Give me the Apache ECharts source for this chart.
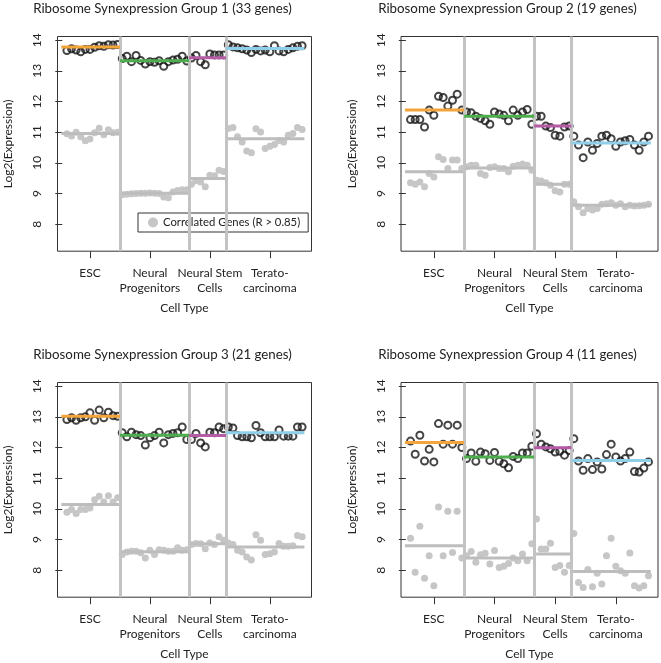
<!DOCTYPE html>
<html><head><meta charset="utf-8">
<script src="https://cdn.jsdelivr.net/npm/echarts@6/dist/echarts.min.js"></script>
<style>html,body{margin:0;padding:0;background:#fff}#c{width:661px;height:663px}</style>
</head><body><div id="c"></div>
<script>
// ---------- data ----------
const categories = ['ESC', 'Neural\nProgenitors', 'Neural Stem\nCells', 'Terato-\ncarcinoma'];
const groupSizes = [12, 15, 8, 17];
const categoryTicks = [6, 19, 32, 45];
const yTicks = [8, 9, 10, 11, 12, 13, 14];
const panelTitles = [
  'Ribosome Synexpression Group 1 (33 genes)',
  'Ribosome Synexpression Group 2 (19 genes)',
  'Ribosome Synexpression Group 3 (21 genes)',
  'Ribosome Synexpression Group 4 (11 genes)'
];
const legendName = 'Correlated Genes (R > 0.85)';

// Group 1
const g1Black = [13.66,13.72,13.68,13.62,13.70,13.70,13.77,13.82,13.80,13.85,13.84,13.86,
  13.40,13.48,13.30,13.50,13.34,13.22,13.30,13.28,13.33,13.15,13.30,13.35,13.38,13.48,13.32,
  13.42,13.50,13.30,13.20,13.55,13.52,13.52,13.52,
  13.85,13.78,13.75,13.72,13.68,13.60,13.70,13.65,13.68,13.62,13.82,13.65,13.62,13.70,13.75,13.80,13.82];
const g1Grey = [10.95,10.88,11.00,10.85,10.72,10.78,10.98,11.13,10.92,11.08,10.98,11.00,
  8.96,8.98,8.99,9.00,9.01,9.01,9.02,9.01,9.00,8.89,8.86,9.05,9.10,9.12,9.12,
  9.30,9.42,9.38,9.22,9.60,9.58,9.76,9.72,
  11.12,11.15,10.85,10.68,10.39,10.33,11.11,11.01,10.47,10.54,10.60,10.73,10.68,10.90,10.96,11.15,11.09];
const g1BlackMeans = [13.78, 13.33, 13.43, 13.73];
const g1GreyMeans = [10.96, 9.01, 9.49, 10.79];

// Group 2
const g2Black = [11.41,11.41,11.41,11.17,11.72,11.55,12.17,12.13,11.85,12.04,12.24,11.72,
  11.66,11.63,11.52,11.45,11.37,11.26,11.66,11.59,11.55,11.37,11.72,11.55,11.66,11.74,11.26,
  11.52,11.52,11.20,11.15,10.90,10.87,11.17,11.20,
  10.87,10.58,10.17,10.68,10.41,10.63,10.87,10.90,10.79,10.54,10.68,10.72,10.76,10.58,10.41,10.68,10.87];
const g2Grey = [9.35,9.30,9.38,9.22,9.65,9.54,10.20,10.11,9.82,10.09,10.09,9.82,
  9.87,9.92,9.92,9.65,9.60,9.85,9.87,9.82,9.82,9.71,9.89,9.92,9.96,9.92,9.76,
  9.43,9.41,9.35,9.27,9.09,9.05,9.30,9.30,
  8.73,8.57,8.37,8.51,8.46,8.51,8.65,8.67,8.70,8.62,8.67,8.57,8.62,8.59,8.60,8.62,8.65];
const g2BlackMeans = [11.72, 11.52, 11.20, 10.65];
const g2GreyMeans = [9.71, 9.83, 9.30, 8.62];

// Group 3
const g3Black = [12.91,12.97,12.89,12.97,13.00,13.13,12.89,13.22,12.97,13.15,13.04,13.02,
  12.48,12.35,12.50,12.42,12.39,12.08,12.32,12.39,12.50,12.15,12.42,12.46,12.48,12.67,12.26,
  12.26,12.46,12.15,12.02,12.50,12.48,12.67,12.61,
  12.67,12.64,12.39,12.35,12.35,12.32,12.72,12.48,12.35,12.35,12.35,12.57,12.37,12.37,12.37,12.67,12.67];
const g3Grey = [9.89,9.98,9.85,9.98,9.98,10.03,10.30,10.41,10.22,10.43,10.22,10.36,
  8.51,8.59,8.62,8.62,8.57,8.40,8.65,8.51,8.67,8.65,8.62,8.62,8.73,8.65,8.67,
  8.84,8.87,8.86,8.70,8.89,8.84,9.09,8.98,
  8.89,8.84,8.65,8.59,8.43,8.33,9.16,8.98,8.51,8.54,8.59,8.87,8.78,8.78,8.80,9.13,9.09];
const g3BlackMeans = [13.02, 12.40, 12.39, 12.48];
const g3GreyMeans = [10.14, 8.60, 8.86, 8.76];

// Group 4
const g4Black = [12.21,11.78,12.40,11.56,11.94,11.53,12.78,12.11,12.73,12.11,12.73,12.00,
  11.64,11.82,11.55,11.85,11.80,11.58,11.84,11.55,11.47,11.34,11.71,11.64,11.82,11.82,12.04,
  12.45,12.11,12.02,11.96,11.85,11.88,11.75,11.90,
  12.29,11.56,11.26,11.64,11.28,11.53,11.30,11.77,12.11,11.69,11.56,11.64,11.85,11.22,11.20,11.33,11.53];
const g4Grey = [9.04,7.93,9.43,7.74,8.47,7.49,10.06,8.47,9.92,8.58,9.92,8.40,
  8.47,8.61,8.26,8.50,8.55,8.20,8.64,8.09,8.13,8.22,8.40,8.31,8.53,8.31,8.86,
  9.67,8.69,8.69,8.88,8.09,8.15,7.93,8.15,
  9.20,7.60,7.44,8.02,7.46,7.90,7.55,8.47,9.04,8.13,7.98,7.90,8.56,7.49,7.42,7.49,7.82];
const g4BlackMeans = [12.16, 11.69, 11.99, 11.58];
const g4GreyMeans = [8.80, 8.40, 8.53, 7.96];

// ---------- styling / layout ----------
const groupColors = ['#F3A43A', '#4DAE4C', '#B65BA6', '#8FCFE9'];
const greyPt = '#C6C6C6';
const greyLine = '#BDBDBD';
const sepColor = '#C3C3C3';
const txt = '#222';
const font = 'Lato';
const grids = [
  {left: 57.5, top: 36.5, width: 254, height: 214.7},
  {left: 401, top: 36.5, width: 257, height: 214.7},
  {left: 57.5, top: 382.5, width: 254, height: 214.7},
  {left: 401, top: 382.5, width: 257, height: 214.7}
];
const titleCenters = [[162.5, 2], [507.5, 2], [162.5, 348], [507.5, 348]];

const panels = [
  {black: g1Black, grey: g1Grey, bm: g1BlackMeans, gm: g1GreyMeans},
  {black: g2Black, grey: g2Grey, bm: g2BlackMeans, gm: g2GreyMeans},
  {black: g3Black, grey: g3Grey, bm: g3BlackMeans, gm: g3GreyMeans},
  {black: g4Black, grey: g4Grey, bm: g4BlackMeans, gm: g4GreyMeans}
];

// group boundaries from sizes
const bounds = [];
let acc = 0;
groupSizes.forEach(n => { bounds.push([acc + 0.5, acc + n + 0.5]); acc += n; });
bounds[0][0] = -0.2;
const separators = bounds.slice(0, -1).map(b => b[1]);
const nTotal = acc;
const xMin = 1 - 0.04 * (nTotal - 1), xMax = nTotal + 0.04 * (nTotal - 1);

const series = [];
const xAxes = [], yAxes = [], titleList = [];
panels.forEach((p, k) => {
  xAxes.push({
    type: 'value', gridIndex: k, min: xMin, max: xMax,
    axisLine: {show: false}, splitLine: {show: false},
    axisTick: {show: true, customValues: categoryTicks, length: 7, lineStyle: {color: '#333', width: 1}},
    axisLabel: {show: true, customValues: categoryTicks, margin: 14, fontSize: 12, lineHeight: 15,
      color: txt, fontFamily: font,
      formatter: v => categories[categoryTicks.indexOf(Math.round(v))] || ''},
    name: 'Cell Type', nameLocation: 'middle', nameGap: 51,
    nameTextStyle: {fontSize: 12, color: txt, fontFamily: font}
  });
  yAxes.push({
    type: 'value', gridIndex: k, min: 7.12, max: 14.12,
    axisLine: {show: false}, splitLine: {show: false},
    axisTick: {show: true, customValues: yTicks, length: 7, lineStyle: {color: '#333', width: 1}},
    axisLabel: {show: true, customValues: yTicks, rotate: 90, margin: 14, fontSize: 12,
      color: txt, fontFamily: font},
    name: 'Log2(Expression)', nameLocation: 'middle', nameGap: 43, nameRotate: 90,
    nameTextStyle: {fontSize: 12, color: txt, fontFamily: font}
  });
  titleList.push({
    text: panelTitles[k], left: titleCenters[k][0], top: titleCenters[k][1], textAlign: 'center',
    padding: 0,
    textStyle: {fontSize: 13.3, fontWeight: 'normal', color: txt, fontFamily: font}
  });
  // separators
  series.push({
    type: 'line', xAxisIndex: k, yAxisIndex: k, data: [], z: 1, silent: true,
    markLine: {silent: true, symbol: 'none', animation: false, label: {show: false},
      lineStyle: {color: sepColor, width: 3, type: 'solid'},
      data: separators.map(s => ({xAxis: s}))}
  });
  // grey points
  series.push({
    type: 'scatter', name: legendName, xAxisIndex: k, yAxisIndex: k, z: 2, silent: true,
    symbol: 'circle', symbolSize: 7, itemStyle: {color: greyPt, opacity: 1},
    data: p.grey.map((v, i) => [i + 1, v])
  });
  // grey mean lines
  bounds.forEach((b, g) => series.push({
    type: 'line', xAxisIndex: k, yAxisIndex: k, z: 3, silent: true, symbol: 'none',
    lineStyle: {color: greyLine, width: 3},
    data: [[b[0], p.gm[g]], [b[1], p.gm[g]]]
  }));
  // black circles
  series.push({
    type: 'scatter', xAxisIndex: k, yAxisIndex: k, z: 4, silent: true,
    symbol: 'circle', symbolSize: 7,
    itemStyle: {color: 'rgba(0,0,0,0)', borderColor: '#161616', borderWidth: 2},
    data: p.black.map((v, i) => [i + 1, v])
  });
  // coloured mean lines
  bounds.forEach((b, g) => series.push({
    type: 'line', xAxisIndex: k, yAxisIndex: k, z: 5, silent: true, symbol: 'none',
    lineStyle: {color: groupColors[g], width: 3},
    data: [[b[0], p.bm[g]], [b[1], p.bm[g]]]
  }));
});

const chart = echarts.init(document.getElementById('c'), null, {renderer: 'canvas'});
chart.setOption({
  animation: false,
  backgroundColor: '#fff',
  textStyle: {fontFamily: font},
  title: titleList,
  grid: grids.map(g => Object.assign({show: true, borderColor: '#333', borderWidth: 1,
    backgroundColor: 'transparent', containLabel: false}, g)),
  xAxis: xAxes,
  yAxis: yAxes,
  legend: {
    data: [legendName], left: 138, top: 213, orient: 'horizontal',
    icon: 'circle', itemWidth: 10, itemHeight: 10, itemGap: 6,
    padding: [4, 8, 4, 10], borderColor: '#333', borderWidth: 1, borderRadius: 0,
    backgroundColor: '#fff', selectedMode: false,
    textStyle: {fontSize: 11.3, color: txt, fontFamily: font}
  },
  series: series
});
</script></body></html>
